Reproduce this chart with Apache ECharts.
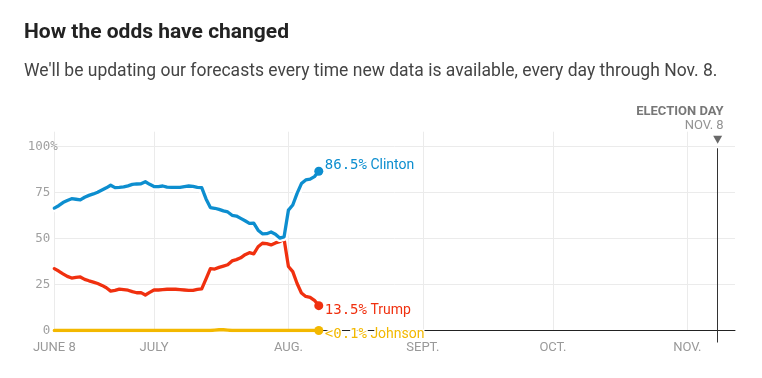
<!DOCTYPE html>
<html><head><meta charset="utf-8">
<script src="https://cdn.jsdelivr.net/npm/echarts@6/dist/echarts.min.js"></script>
<style>html,body{margin:0;padding:0;background:#fff}#c{width:762px;height:378px}</style>
</head><body><div id="c"></div>
<script>
// Daily forecast, June 8 .. Aug 8, 2016 (win probability, %)
const clinton = [66.5,67.8,69.5,70.6,71.6,71.3,71.0,72.4,73.4,74.2,75.1,76.3,77.5,78.9,77.6,77.7,78.0,78.6,79.4,79.6,79.7,80.8,79.4,78.2,78.2,78.5,77.9,77.7,77.7,77.8,78.2,78.5,78.3,77.8,77.6,71.5,66.8,66.4,65.8,65.0,64.4,62.6,62.2,60.9,59.6,58.2,58.3,54.5,52.5,52.6,53.5,52.3,50.2,50.9,65.4,68.2,74.5,79.8,81.8,82.2,83.6,86.5];
const trump = [33.6,32.3,30.8,29.4,28.5,28.9,29.1,27.8,27.0,26.3,25.5,24.5,23.2,21.4,21.8,22.5,22.2,21.9,21.1,20.5,20.6,19.3,20.7,22.0,22.0,22.2,22.4,22.4,22.4,22.2,22.0,21.8,21.8,22.3,22.6,28.0,33.6,33.4,34.3,35.0,35.7,37.8,38.5,39.5,41.2,42.3,41.6,45.5,47.4,47.2,46.5,47.6,48.3,49.6,34.8,32.0,25.5,20.4,18.5,18.0,16.4,13.5];
const johnson = [0,0,0,0,0,0,0,0,0,0,0,0,0,0,0,0,0,0,0,0,0,0,0,0,0,0,0,0,0,0,0,0,0,0,0,0,0,0.2,0.4,0.4,0.2,0,0,0,0,0,0,0,0,0,0,0,0,0,0,0,0,0,0,0,0,0];
const startDay = [2016, 5, 8];
const endDay = [2016, 10, 12];
const electionDay = [2016, 10, 8];
const monthTickDays = [[2016,5,8],[2016,6,1],[2016,7,1],[2016,8,1],[2016,9,1],[2016,10,1]];
const monthTickLabels = ['JUNE 8','JULY','AUG.','SEPT.','OCT.','NOV.'];
const yTicks = [0, 25, 50, 75];
const yTopTick = 100;
const finalLabels = {clinton: '86.5%', trump: '13.5%', johnson: '<0.1%'};

// x positions are days since June 8 (computed from calendar dates)
const DAY = 86400000;
const t0 = Date.UTC(startDay[0], startDay[1], startDay[2]);
const dayOf = d => Math.round((Date.UTC(d[0], d[1], d[2]) - t0) / DAY);
const toData = arr => arr.map((v, i) => {
  const item = {value: [i, v]};
  if (i === arr.length - 1) { item.symbol = 'circle'; item.symbolSize = 9; }
  return item;
});
const monthVals = monthTickDays.map(dayOf);
const elec = dayOf(electionDay);
const xMax = dayOf(endDay);

const C_BLUE = '#0d8ecf', C_RED = '#f0300f', C_YEL = '#f3b800';
const mono = 'DejaVu Sans Mono', sans = 'Roboto';
const endLab = (num, name, color, off, halo) => ({
  show: true, distance: 6, offset: off,
  formatter: '{n|' + num + '}{t| ' + name + '}',
  rich: {
    n: {fontFamily: mono, fontSize: 14, color: color, textBorderColor: halo ? '#fff' : 'transparent', textBorderWidth: halo ? 3 : 0},
    t: {fontFamily: sans, fontSize: 14, color: color, textBorderColor: halo ? '#fff' : 'transparent', textBorderWidth: halo ? 3 : 0}
  }
});
const lineBase = {type: 'line', smooth: false, symbol: 'none', silent: true, emphasis: {disabled: true}, animation: false};
const yLab = {color: '#a0a0a0', fontFamily: mono, fontSize: 12.5};

const chart = echarts.init(document.getElementById('c'), null, {renderer: 'canvas'});
chart.setOption({
  animation: false,
  title: [
    {text: 'How the odds have changed', left: 19, top: 17,
     textStyle: {fontFamily: sans, fontWeight: 'bold', fontSize: 21, color: '#222'}},
    {text: "We'll be updating our forecasts every time new data is available, every day through Nov. 8.", left: 19, top: 58,
     textStyle: {fontFamily: sans, fontWeight: 'normal', fontSize: 17.5, color: '#444'}}
  ],
  grid: {left: 54.3, right: 27, top: 131.7, bottom: 47.5},
  xAxis: [
    {type: 'value', min: 0, max: xMax,
     axisLine: {show: true, onZero: false, lineStyle: {color: '#222', width: 1}},
     axisTick: {show: false, customValues: monthVals},
     axisLabel: {customValues: monthVals, color: '#999', fontFamily: sans, fontSize: 13, margin: 11,
                 formatter: v => { const k = monthVals.indexOf(v); return k >= 0 ? monthTickLabels[k] : ''; }},
     splitLine: {show: true, lineStyle: {color: '#ebebeb', width: 1}}},
    {type: 'value', min: 0, max: xMax, position: 'bottom',
     axisLine: {show: false}, axisLabel: {show: false}, splitLine: {show: false},
     axisTick: {show: true, customValues: [elec], length: 12, lineStyle: {color: '#333', width: 1}}}
  ],
  yAxis: [
    {type: 'value', min: 0, max: 108, position: 'left',
     axisLine: {show: false}, axisTick: {show: false, customValues: yTicks.concat([yTopTick])},
     axisLabel: Object.assign({customValues: yTicks, margin: 4, formatter: v => String(v)}, yLab),
     splitLine: {show: true, lineStyle: {color: '#ebebeb', width: 1}}},
    {type: 'value', min: 0, max: 108, position: 'left', offset: 0,
     axisLine: {show: false}, axisTick: {show: false, customValues: [yTopTick]}, splitLine: {show: false},
     axisLabel: Object.assign({customValues: [yTopTick], margin: -3.5, formatter: v => v + '%'}, yLab)}
  ],
  series: [
    Object.assign({}, lineBase, {name: 'Johnson', data: toData(johnson), z: 3,
      lineStyle: {color: C_YEL, width: 3.3, cap: 'round', join: 'round'}, itemStyle: {color: C_YEL},
      endLabel: endLab(finalLabels.johnson, 'Johnson', C_YEL, [0, 4], true)}),
    Object.assign({}, lineBase, {name: 'Trump', data: toData(trump), z: 4,
      lineStyle: {color: C_RED, width: 3.3, cap: 'round', join: 'round'}, itemStyle: {color: C_RED},
      endLabel: endLab(finalLabels.trump, 'Trump', C_RED, [0, 5], false)}),
    Object.assign({}, lineBase, {name: 'halo', data: clinton.map((v, i) => [i, v]), z: 5,
      lineStyle: {color: '#fff', width: 8, cap: 'round', join: 'round'}}),
    Object.assign({}, lineBase, {name: 'Clinton', data: toData(clinton), z: 6,
      lineStyle: {color: C_BLUE, width: 3.3, cap: 'round', join: 'round'}, itemStyle: {color: C_BLUE},
      endLabel: endLab(finalLabels.clinton, 'Clinton', C_BLUE, [0, -6], false)}),
    {type: 'scatter', name: 'Election day', silent: true, z: 7,
     data: [[elec, 103.6]], symbol: 'triangle', symbolRotate: 180, symbolSize: [9, 8],
     itemStyle: {color: '#444'},
     label: {show: true, position: 'top', distance: 3, align: 'right', offset: [6, 0],
       formatter: '{a|ELECTION DAY}\n{b|NOV. 8}',
       rich: {a: {fontFamily: sans, fontWeight: 'bold', fontSize: 13, color: '#555', lineHeight: 14, align: 'right'},
              b: {fontFamily: sans, fontSize: 13, color: '#777', lineHeight: 14, align: 'right'}}},
     markLine: {silent: true, symbol: ['none', 'none'], label: {show: false},
       lineStyle: {color: '#333', width: 1, type: 'solid'},
       data: [[{coord: [elec, 99]}, {coord: [elec, 0]}]]}}
  ]
});
</script></body></html>
